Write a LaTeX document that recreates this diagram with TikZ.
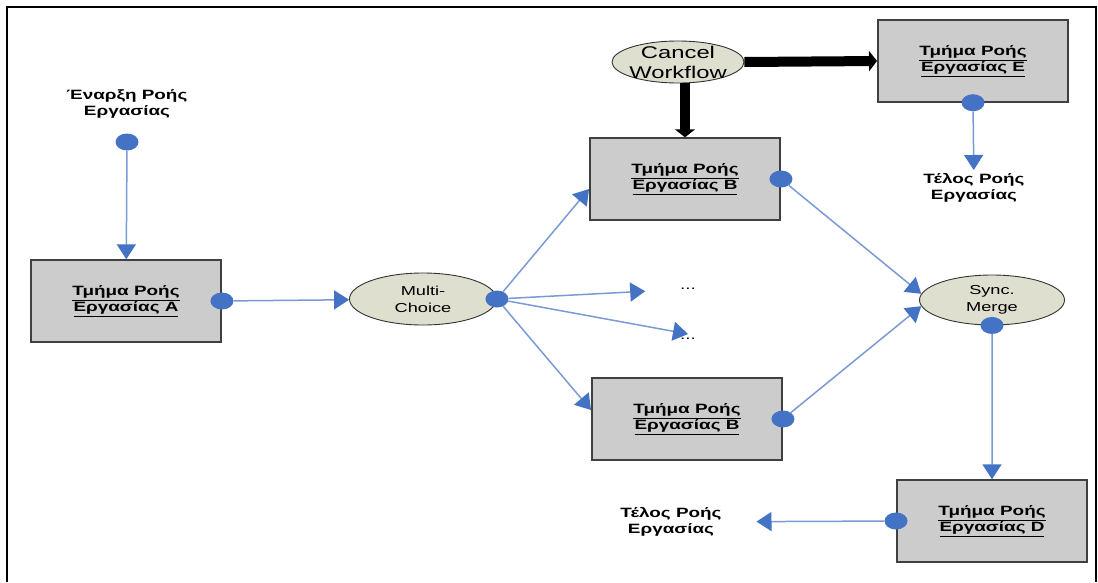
\documentclass[tikz,border=0pt]{standalone}
\usepackage{fontspec}
\setmainfont{Liberation Sans}
\usetikzlibrary{arrows.meta, shapes.geometric, backgrounds}
\definecolor{flowblue}{RGB}{68,114,196}
\definecolor{flowline}{RGB}{122,154,212}
\definecolor{taskgrey}{RGB}{204,204,204}
\definecolor{ovalfill}{RGB}{222,223,206}
\tikzset{
    taskbox/.style={draw=black!75, line width=1.4pt, fill=taskgrey, xscale=1.4, minimum width=135.7pt, minimum height=82pt, align=center, font=\bfseries\fontsize{13.5}{16}\selectfont},
    wfpattern/.style={ellipse, draw=black!80, line width=0.9pt, fill=ovalfill, inner sep=0pt},
    patterntext/.style={xscale=1.4, align=center, font=\fontsize{13}{17}\selectfont},
    endpoint/.style={xscale=1.4, align=center, font=\bfseries\fontsize{13.5}{16}\selectfont},
    moredots/.style={xscale=1.4, font=\fontsize{13.5}{15}\selectfont},
    port/.style={ellipse, fill=flowblue, minimum width=23pt, minimum height=17pt, inner sep=0pt},
    flowarrow/.style={-{Triangle[length=15pt,width=19pt,color=flowblue]}, line width=1.5pt, draw=flowline},
    cancelarrow/.style={-{Triangle[length=8pt,width=20pt]}, line width=10pt, draw=black}
}

\begin{document}
\begin{tikzpicture}[x=1pt,y=-1pt]
    \useasboundingbox (0,0) rectangle (1098,582);
    % outer frame
    \draw[line width=2pt] (7,582) -- (7,7) -- (1096,7) -- (1096,582);

    % Start and task A
    \node[endpoint] (start) at (127,104) {Έναρξη Ροής\\Εργασίας};
    \node[port] (startdot) at (127,142) {};
    \node[taskbox] (taskA) at (126,301) {\underline{Τμήμα Ροής}\\\underline{Εργασίας A}};
    \node[port] (adot) at (taskA.east) {};

    % Multi-choice split
    \node[wfpattern, minimum width=147pt, minimum height=52pt] (multi) at (423,299) {};
    \node[patterntext] (multitxt) at (multi) {Multi-\\Choice};
    \node[port] (mdot) at (multi.east) {};
    \node[moredots] (more1) at (688,289) {...};
    \node[moredots] (more2) at (688,339) {...};

    % the two B branches
    \node[taskbox] (taskB1) at (685,179) {\underline{Τμήμα Ροής}\\\underline{Εργασίας B}};
    \node[port] (b1dot) at (taskB1.east) {};
    \node[taskbox] (taskB2) at (687,419) {\underline{Τμήμα Ροής}\\\underline{Εργασίας B}};
    \node[port] (b2dot) at (taskB2.east) {};

    % Cancel workflow and task E
    \node[wfpattern, minimum width=132pt, minimum height=42pt] (cancel) at (678,62) {};
    \node[patterntext, font=\fontsize{17}{20}\selectfont] (canceltxt) at (cancel) {Cancel\\Workflow};
    \node[taskbox] (taskE) at (973,61) {\underline{Τμήμα Ροής}\\\underline{Εργασίας E}};
    \node[port] (edot) at (taskE.south) {};
    \node[endpoint] (endE) at (974,188) {Τέλος Ροής\\Εργασίας};

    % Sync merge and task D
    \node[wfpattern, minimum width=145pt, minimum height=50pt] (sync) at (992,300) {};
    \node[patterntext] (synctxt) at (sync) {Sync.\\Merge};
    \node[port] (sdot) at (sync.south) {};
    \node[taskbox] (taskD) at (992,521) {\underline{Τμήμα Ροής}\\\underline{Εργασίας D}};
    \node[port] (ddot) at (taskD.west) {};
    \node[endpoint] (endD) at (671,522) {Τέλος Ροής\\Εργασίας};

    % flow
    \draw[flowarrow] (startdot) -- (taskA);
    \draw[flowarrow] (adot) -- (multi);
    \draw[flowarrow] (mdot) -- ([yshift=-10pt]taskB1.west);
    \draw[flowarrow] (mdot) -- ([yshift=9pt]taskB2.west);
    \begin{scope}[on background layer]
        % the open branches sit under their dots
        \draw[flowarrow, shorten >=30pt] (mdot) -- (more1);
        \draw[flowarrow] (mdot) -- ([yshift=5pt]more2.center);
    \end{scope}
    \draw[flowarrow] (b1dot) -- (sync.175);
    \draw[flowarrow] (b2dot) -- (sync.185);
    \draw[flowarrow] (sdot) -- (taskD);
    \draw[flowarrow, shorten >=30pt] (ddot) -- (endD);
    \draw[flowarrow] (edot) -- (endE);

    % cancellation
    \draw[cancelarrow] (taskB1.north |- cancel.south) -- (taskB1.north);
    \draw[cancelarrow] (cancel.east) -- (taskE.west);
\end{tikzpicture}
\end{document}
